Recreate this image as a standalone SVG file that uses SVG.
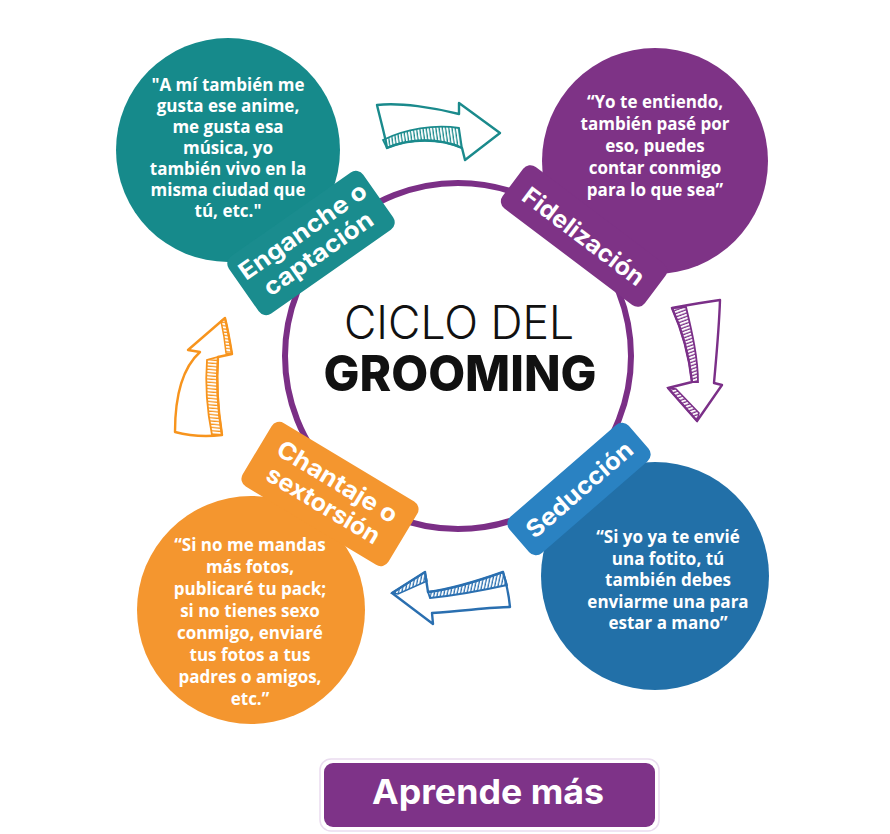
<svg xmlns="http://www.w3.org/2000/svg" width="890" height="834" viewBox="0 0 890 834">
<style>
.q{font-family:"Open Sans","Noto Sans",sans-serif;font-weight:700;font-size:17px;fill:#fff;text-anchor:middle}
.t{font-family:Inter,"Noto Sans",sans-serif;font-weight:700;font-size:24px;fill:#fff;text-anchor:middle}
.arr{fill:#fff;stroke-width:2.4;stroke-linejoin:round;stroke-linecap:round}
</style>
<defs>
<pattern id="hT" width="3.2" height="20" patternUnits="userSpaceOnUse" patternTransform="rotate(-8)"><line x1="1" y1="0" x2="1" y2="20" stroke="#1a8a8c" stroke-width="1.3"/></pattern>
<pattern id="hP" width="20" height="3.2" patternUnits="userSpaceOnUse" patternTransform="rotate(-20)"><line x1="0" y1="1" x2="20" y2="1" stroke="#7b2f88" stroke-width="1.3"/></pattern>
<pattern id="hB" width="3.2" height="20" patternUnits="userSpaceOnUse" patternTransform="rotate(12)"><line x1="1" y1="0" x2="1" y2="20" stroke="#2a6fb0" stroke-width="1.3"/></pattern>
<pattern id="hO" width="20" height="3.2" patternUnits="userSpaceOnUse" patternTransform="rotate(5)"><line x1="0" y1="1" x2="20" y2="1" stroke="#f7941d" stroke-width="1.3"/></pattern>
</defs>
<rect width="890" height="834" fill="#fff"/>

<g id="center">
<circle cx="458" cy="356" r="173" fill="#fff" stroke="#7b2f86" stroke-width="6"/>
<text x="459" y="339" font-family="Inter,'Noto Sans',sans-serif" font-weight="300" font-size="46" textLength="230" lengthAdjust="spacingAndGlyphs" text-anchor="middle" fill="#111">CICLO DEL</text>
<text x="460" y="391" font-family="Inter,'Noto Sans',sans-serif" font-weight="800" font-size="50" textLength="273" lengthAdjust="spacingAndGlyphs" text-anchor="middle" fill="#111">GROOMING</text>
</g>

<g id="enganche">
<circle cx="228" cy="150" r="112" fill="#168a8b"/>
<g transform="translate(311,243) rotate(-35)">
<rect x="-82" y="-35" width="164" height="70" rx="9" fill="#1a8c8e"/>
<text class="t" x="0" y="-6" textLength="150" lengthAdjust="spacingAndGlyphs">Enganche o</text>
<text class="t" x="0" y="21" textLength="128" lengthAdjust="spacingAndGlyphs">captación</text>
</g>
<text class="q" x="228" y="91">"A mí también me</text>
<text class="q" x="228" y="112">gusta ese anime,</text>
<text class="q" x="228" y="133">me gusta esa</text>
<text class="q" x="228" y="154">música, yo</text>
<text class="q" x="228" y="175">también vivo en la</text>
<text class="q" x="228" y="196">misma ciudad que</text>
<text class="q" x="228" y="217">tú, etc."</text>
</g>

<g id="fidelizacion">
<circle cx="655" cy="161" r="113" fill="#7e3386"/>
<g transform="translate(584,236) rotate(37)">
<rect x="-89" y="-26" width="178" height="52" rx="9" fill="#7e3386"/>
<text class="t" x="0" y="9" textLength="146" lengthAdjust="spacingAndGlyphs">Fidelización</text>
</g>
<text class="q" x="655" y="108">“Yo te entiendo,</text>
<text class="q" x="655" y="130">también pasé por</text>
<text class="q" x="655" y="152">eso, puedes</text>
<text class="q" x="655" y="174">contar conmigo</text>
<text class="q" x="655" y="196">para lo que sea”</text>
</g>

<g id="seduccion">
<circle cx="655" cy="576" r="114" fill="#2270a8"/>
<g transform="translate(579,489) rotate(-41)">
<rect x="-79" y="-24" width="158" height="48" rx="9" fill="#2a82c2"/>
<text class="t" x="0" y="9" textLength="133" lengthAdjust="spacingAndGlyphs">Seducción</text>
</g>
<text class="q" x="668" y="543">“Si yo ya te envié</text>
<text class="q" x="668" y="565">una fotito, tú</text>
<text class="q" x="668" y="586">también debes</text>
<text class="q" x="668" y="608">enviarme una para</text>
<text class="q" x="668" y="629">estar a mano”</text>
</g>

<g id="chantaje">
<circle cx="251" cy="610" r="114" fill="#f4962f"/>
<g transform="translate(330,494) rotate(31)">
<rect x="-85" y="-37" width="170" height="74" rx="9" fill="#f4962f"/>
<text class="t" x="0" y="-6" textLength="136" lengthAdjust="spacingAndGlyphs">Chantaje o</text>
<text class="t" x="0" y="21" textLength="128" lengthAdjust="spacingAndGlyphs">sextorsión</text>
</g>
<text class="q" x="250" y="551">“Si no me mandas</text>
<text class="q" x="250" y="573">más fotos,</text>
<text class="q" x="250" y="595">publicaré tu pack;</text>
<text class="q" x="250" y="617">si no tienes sexo</text>
<text class="q" x="250" y="639">conmigo, enviaré</text>
<text class="q" x="250" y="661">tus fotos a tus</text>
<text class="q" x="250" y="683">padres o amigos,</text>
<text class="q" x="250" y="705">etc.”</text>
</g>

<g id="connectors">
<g stroke="#1a8a8c">
<path class="arr" d="M377,105 C400,102 435,108 459,114 L459,103 L500,133 L465,160 L462,148 C440,138 410,138 387,148 C385,135 380,118 377,105 Z"/>
<path d="M383,140 C405,129 435,124 459,128 L462,148 C440,138 410,138 387,148 Z" fill="url(#hT)" stroke-width="1.8"/>
</g>
<g stroke="#7b2f88">
<path class="arr" d="M672,308 C688,305 705,302 720,300 C719,330 716,360 714,383 L722,385 L697,421 L668,388 L692,382 C689,355 682,330 672,308 Z"/>
<path d="M672,308 C682,330 689,355 692,382 L698,382 C698,358 692,332 686,307 Z" fill="url(#hP)" stroke-width="1.8"/>
<path d="M668,388 L697,421 L699,413 L676,389 Z" fill="url(#hP)" stroke-width="1.5"/>
</g>
<g stroke="#2a6fb0">
<path class="arr" d="M392,593 L425,572 L428,592 C445,590 475,582 503,572 C507,585 509,597 510,607 C490,607 465,611 432,613 L433,624 Z"/>
<path d="M428,592 C445,590 475,582 503,572 L507,585 C480,591 450,596 430,598 Z" fill="url(#hB)" stroke-width="1.8"/>
<path d="M392,593 L425,572 L427,581 L398,594 Z" fill="url(#hB)" stroke-width="1.5"/>
</g>
<g stroke="#f7941d">
<path class="arr" d="M225,318 C228,330 230,342 232,354 L218,357 C216,385 218,410 222,435 C205,437 190,436 175,432 C175,400 180,370 200,352 L188,350 Z"/>
<path d="M218,357 C216,385 218,410 222,435 L212,435 C207,410 205,385 207,360 Z" fill="url(#hO)" stroke-width="1.8"/>
<path d="M225,318 C228,330 230,342 232,354 L226,353 C225,342 223,330 221,321 Z" fill="url(#hO)" stroke-width="1.5"/>
</g>
</g>

<g id="boton">
<rect x="320" y="759" width="339" height="72" rx="11" fill="#fff" stroke="#eadcef" stroke-width="1.5"/>
<rect x="324" y="763" width="331" height="64" rx="9" fill="#7e3388"/>
<text x="488" y="804" font-family="Inter,'Noto Sans',sans-serif" font-weight="700" font-size="34" textLength="232" lengthAdjust="spacingAndGlyphs" text-anchor="middle" fill="#fff">Aprende más</text>
</g>
</svg>
